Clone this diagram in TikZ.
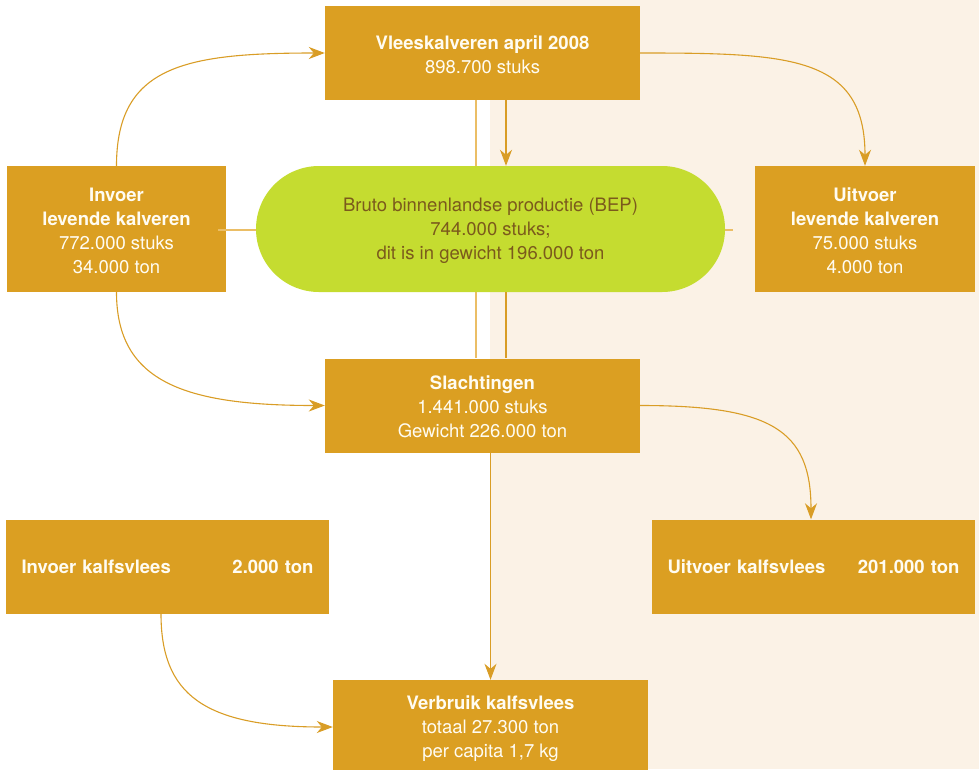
\documentclass[tikz,border=0pt]{standalone}
\usepackage{fontspec}
\setmainfont{TeX Gyre Heros}
\usetikzlibrary{arrows.meta}

\definecolor{boxgold}{HTML}{DB9F22}
\definecolor{flowgold}{HTML}{D99D26}
\definecolor{lightgold}{HTML}{EBBE66}
\definecolor{cream}{HTML}{FBF2E6}
\definecolor{bepgreen}{HTML}{C5DC30}
\definecolor{beptext}{HTML}{7B5A1C}
\definecolor{boxtext}{HTML}{FFFCF2}

% pushes the text of a box a little down
\newcommand{\lift}{\rule{0pt}{17.3pt}}

\begin{document}
\begin{tikzpicture}[x=1pt,y=-1pt]
   \tikzset{BoxStyle/.style={fill=boxgold, text=boxtext, align=center, inner sep=0pt,
      minimum width=315pt, minimum height=94pt, font=\fontsize{18.5}{24}\selectfont}}
   \tikzset{WideStyle/.style={BoxStyle, align=left, inner xsep=15.5pt, text width=292pt}}
   \tikzset{FlowStyle/.style={draw=flowgold, line width=1.1pt, -{Stealth[length=16pt,width=12pt,inset=5pt]}}}
   \tikzset{LineStyle/.style={draw=flowgold, line width=1.1pt}}
   \tikzset{ThinStyle/.style={draw=lightgold, line width=2pt}}
   \useasboundingbox (0,0) rectangle (979,769);
   \clip (0,0) rectangle (979,769);
   % background
   \fill[cream] (490,0) rectangle (979,769);
   % boxes
   \node[BoxStyle] (vlees) at (482.5,53) {\lift\textbf{Vleeskalveren april 2008}\\898.700 stuks};
   \node[BoxStyle, minimum width=219pt, minimum height=126pt] (invoerlev) at (116.5,229)
      {\lift\textbf{Invoer}\\\textbf{levende kalveren}\\772.000 stuks\\34.000 ton};
   \node[BoxStyle, minimum width=220pt, minimum height=126pt] (uitvoerlev) at (865,229)
      {\lift\textbf{Uitvoer}\\\textbf{levende kalveren}\\75.000 stuks\\4.000 ton};
   \node[BoxStyle] (slacht) at (482.5,405.5) {\lift\textbf{Slachtingen}\\1.441.000 stuks\\Gewicht 226.000 ton};
   \node[WideStyle] (invoervlees) at (167.5,566.5) {\textbf{Invoer kalfsvlees}\hfill\textbf{2.000 ton}};
   \node[WideStyle] (uitvoervlees) at (813.5,566.5) {\textbf{Uitvoer kalfsvlees}\hfill\textbf{201.000 ton}};
   \node[BoxStyle] (verbruik) at (490.5,727) {\lift\textbf{Verbruik kalfsvlees}\\totaal 27.300 ton\\per capita 1,7 kg};
   % lines behind the BEP
   \coordinate (stub) at (733,230);
   \draw[ThinStyle] ([xshift=-8pt,yshift=-1pt]invoerlev.east) -- (stub);
   \draw[ThinStyle] ([xshift=-7pt]vlees.south) -- ([xshift=-7pt]slacht.north);
   \node[BoxStyle, fill=bepgreen, text=beptext, rounded corners=63pt, minimum width=469pt,
      minimum height=126pt] (bep) at (490.5,229)
      {\lift Bruto binnenlandse productie (BEP)\\744.000 stuks;\\dit is in gewicht 196.000 ton};
   % flows
   \draw[FlowStyle] (invoerlev.north) .. controls +(0,-100) and +(-140,0) .. (vlees.west);
   \draw[FlowStyle] (vlees.east) .. controls +(150,0) and +(0,-110) .. (uitvoerlev.north);
   \draw[FlowStyle] ([xshift=23.5pt]vlees.south) -- ([xshift=15.5pt]bep.north);
   \draw[LineStyle] ([xshift=15.5pt]bep.south) -- ([xshift=23.5pt]slacht.north);
   \draw[FlowStyle] (invoerlev.south) .. controls +(0,90) and +(-140,0) .. (slacht.west);
   \draw[FlowStyle] (slacht.east) .. controls +(130,0) and +(0,-90) .. ([xshift=-2.5pt]uitvoervlees.north);
   \draw[FlowStyle] ([xshift=8pt]slacht.south) -- (verbruik.north);
   \draw[FlowStyle] ([xshift=-6.5pt]invoervlees.south) .. controls +(0,80) and +(-130,0) .. (verbruik.west);
\end{tikzpicture}
\end{document}
